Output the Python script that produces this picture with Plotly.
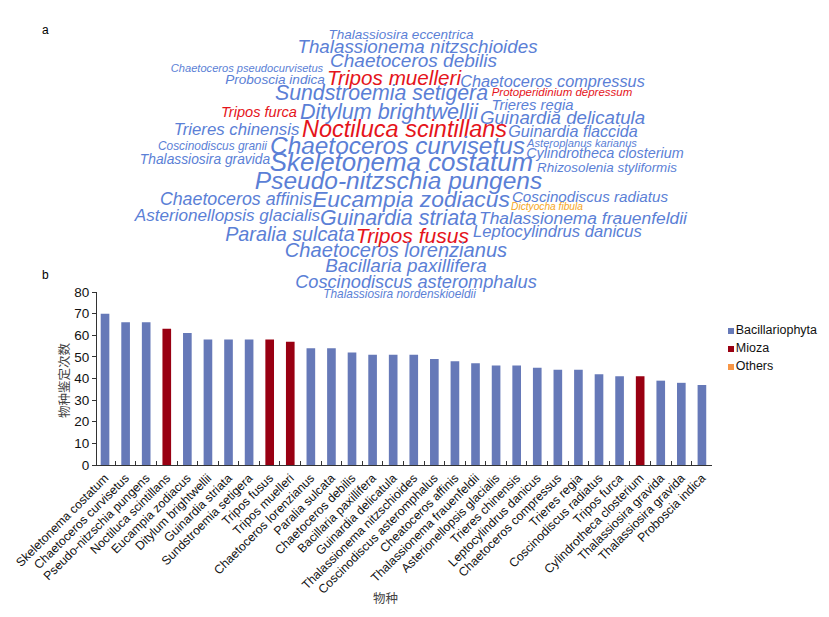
import plotly.graph_objects as go

# ---- panel b: identification counts ----
species = ["Skeletonema costatum", "Chaetoceros curvisetus", "Pseudo-nitzschia pungens",
           "Noctiluca scintillans", "Eucampia zodiacus", "Ditylum brightwellii",
           "Guinardia striata", "Sundstroemia setigera", "Tripos fusus", "Tripos muelleri",
           "Chaetoceros lorenzianus", "Paralia sulcata", "Chaetoceros debilis",
           "Bacillaria paxillifera", "Guinardia delicatula", "Thalassionema nitzschioides",
           "Coscinodiscus asteromphalus", "Cheatoceros affinis", "Thalassionema frauenfeldii",
           "Asterionellopsis glacialis", "Trieres chinensis", "Leptocylindrus danicus",
           "Chaetoceros compressus", "Trieres regia", "Coscinodiscus radiatus", "Tripos furca",
           "Cylindrotheca closterium", "Thalassiosira gravida", "Thalassiosira gravida",
           "Proboscia indica"]
counts = [70, 66, 66, 63, 61, 58, 58, 58, 58, 57, 54, 54, 52, 51, 51, 51, 49, 48, 47,
          46, 46, 45, 44, 44, 42, 41, 41, 39, 38, 37]
groups = ["B", "B", "B", "M", "B", "B", "B", "B", "M", "M", "B", "B", "B", "B", "B", "B",
          "B", "B", "B", "B", "B", "B", "B", "B", "B", "B", "M", "B", "B", "B"]

group_names = ["Bacillariophyta", "Mioza", "Others"]
group_keys = ["B", "M", "O"]
bar_colors = {"B": "#6679b8", "M": "#990012", "O": "#f79646"}

# ---- panel a: word cloud (centre x, centre y in px, font size, class) ----
words = ["Thalassiosira eccentrica", "Thalassionema nitzschioides", "Chaetoceros debilis",
         "Chaetoceros pseudocurvisetus", "Proboscia indica", "Tripos muelleri",
         "Chaetoceros compressus", "Sundstroemia setigera", "Protoperidinium depressum",
         "Trieres regia", "Tripos furca", "Ditylum brightwellii", "Guinardia delicatula",
         "Trieres chinensis", "Noctiluca scintillans", "Guinardia flaccida",
         "Coscinodiscus granii", "Asteroplanus karianus", "Chaetoceros curvisetus",
         "Cylindrotheca closterium", "Thalassiosira gravida", "Skeletonema costatum",
         "Rhizosolenia styliformis", "Pseudo-nitzschia pungens", "Chaetoceros affinis",
         "Eucampia zodiacus", "Coscinodiscus radiatus", "Dictyocha fibula",
         "Asterionellopsis glacialis", "Guinardia striata", "Thalassionema frauenfeldii",
         "Paralia sulcata", "Tripos fusus", "Leptocylindrus danicus",
         "Chaetoceros lorenzianus", "Bacillaria paxillifera", "Coscinodiscus asteromphalus",
         "Thalassiosira nordenskioeldii"]
word_x = [401, 417.5, 413.5, 247, 275, 394, 552.5, 381.5, 562, 532.5, 259, 389, 562.5,
          236.5, 404.5, 573, 212.5, 582, 397.5, 605, 205, 401.5, 607, 398.5, 236, 411,
          590, 547, 227.5, 398.5, 583, 290, 412.5, 557.5, 396, 406, 416, 399.5]
word_y = [35.5, 48.5, 62, 69, 80.5, 79.5, 83, 95, 93, 106, 113.5, 113.5, 119,
          131, 131, 133, 147, 144, 147.5, 154.5, 160.5, 165, 169, 182.5,
          200.5, 201.5, 198.5, 207.5, 217, 219.5, 219.5, 236, 237.5, 233, 252, 267.5,
          283.5, 295]
word_size = [13.5, 18.8, 19, 11.1, 13.6, 20.7, 16.3, 21.3, 11.5, 14.8, 14.6, 21.5, 18.7,
             16.8, 23.5, 16.2, 11.9, 11.1, 24.4, 14.4, 13.8, 25.9, 13.4, 24.5, 17.8, 22.8,
             15.2, 10.2, 17.1, 21.4, 17.4, 19.8, 21.1, 16.6, 20.1, 18.9, 18.2, 11.9]
word_class = ["B", "B", "B", "B", "B", "M", "B", "B", "M", "B", "M", "B", "B", "B", "M",
              "B", "B", "B", "B", "B", "B", "B", "B", "B", "B", "B", "B", "O", "B", "B",
              "B", "B", "M", "B", "B", "B", "B", "B"]
word_colors = {"B": "#5b7fd6", "M": "#e5141b", "O": "#f5a623"}

W, H = 829, 617
OFF = 8  # page body margin
FONT = "Arial, Liberation Sans, sans-serif"


def px(s):
    return (s - OFF) / W


def py(s):
    return 1 - (s - OFF) / H


fig = go.Figure()

fig.add_trace(go.Bar(
    x=list(range(len(species))), y=counts,
    marker=dict(color=[bar_colors[g] for g in groups], line=dict(width=0)),
    width=0.42, showlegend=False, hoverinfo="y",
))

fig.add_trace(go.Scatter(
    x=word_x, y=word_y, text=words, mode="text", textposition="middle center",
    textfont=dict(family=FONT, size=word_size, style="italic",
                  color=[word_colors[c] for c in word_class]),
    xaxis="x2", yaxis="y2", showlegend=False, hoverinfo="text",
))

# hand-made legend
fig.add_trace(go.Scatter(
    x=[731] * 3, y=[331, 349, 367], text=group_names, mode="markers+text",
    textposition="middle right",
    marker=dict(symbol="square", size=6, color=[bar_colors[k] for k in group_keys]),
    textfont=dict(family=FONT, size=12.5, color="#111"),
    xaxis="x2", yaxis="y2", showlegend=False, hoverinfo="skip",
))

fig.update_layout(
    width=W, height=H, margin=dict(l=0, r=0, t=0, b=0, autoexpand=False),
    paper_bgcolor="white", plot_bgcolor="rgba(0,0,0,0)",
    font=dict(family=FONT, color="#111"),
    xaxis=dict(
        domain=[px(97), px(712)], range=[-0.39, 29.49], automargin=False,
        tickmode="array", tickvals=list(range(len(species))), ticktext=species,
        tickangle=-45, tickfont=dict(size=12.3, color="#111"), ticks="", ticklen=0,
        minor=dict(tickmode="array", tickvals=[i - 0.5 for i in range(len(species) + 1)],
                   ticks="inside", ticklen=4, tickcolor="#333"),
        showline=True, linecolor="#333", linewidth=1, showgrid=False, zeroline=False,
        anchor="y", fixedrange=True,
    ),
    yaxis=dict(
        domain=[py(465), py(292)], range=[0, 80], dtick=10, automargin=False,
        ticks="outside", ticklen=4, tickcolor="#333", tickfont=dict(size=13.5, color="#111"),
        showline=True, linecolor="#333", linewidth=1, showgrid=False, zeroline=False,
        anchor="x",
    ),
    xaxis2=dict(domain=[0, 1], range=[OFF, W + OFF], visible=False, anchor="y2",
                automargin=False),
    yaxis2=dict(domain=[0, 1], range=[H + OFF, OFF], visible=False, anchor="x2",
                automargin=False),
    annotations=[
        dict(text="a", x=px(45), y=py(30), xref="paper", yref="paper",
             xanchor="center", yanchor="middle",
             showarrow=False, font=dict(size=12, color="#000")),
        dict(text="b", x=px(45), y=py(275), xref="paper", yref="paper",
             xanchor="center", yanchor="middle",
             showarrow=False, font=dict(size=12, color="#000")),
        dict(text="物种鉴定次数", x=px(63), y=py(380), xref="paper", yref="paper",
             xanchor="center", yanchor="middle", textangle=-90, showarrow=False,
             font=dict(size=12.5, color="#444", family="Noto Sans CJK SC")),
        dict(text="物种", x=px(385), y=py(597), xref="paper", yref="paper",
             xanchor="center", yanchor="middle", showarrow=False,
             font=dict(size=12.5, color="#444", family="Noto Sans CJK SC")),
    ],
)

fig.write_html("out.html")
